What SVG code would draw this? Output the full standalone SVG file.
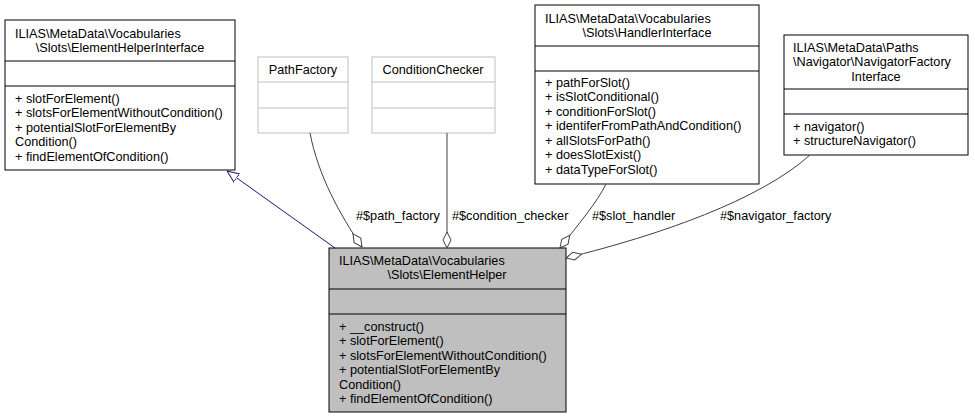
<svg xmlns="http://www.w3.org/2000/svg" width="975" height="419" viewBox="0 0 975 419">
<defs>
<style>
text{font-family:"Liberation Sans",Arial,sans-serif;font-size:12.7px;fill:#000}
.b{fill:#fff;stroke:#000;stroke-width:1}
.g{fill:#fff;stroke:#bfbfbf;stroke-width:1}
.m{fill:#bfbfbf;stroke:#000;stroke-width:1}
.e{fill:none;stroke:#404040;stroke-width:1}
.c{text-anchor:middle}
</style>
<marker id="tri" viewBox="0 0 12 12" refX="12" refY="6" markerWidth="12" markerHeight="12" markerUnits="userSpaceOnUse" orient="auto"><path d="M0,1 L12,6 L0,11 Z" fill="#fff" stroke="#191970"/></marker>
<marker id="dia" viewBox="0 0 18 10" refX="17" refY="5" markerWidth="18" markerHeight="10" markerUnits="userSpaceOnUse" orient="auto"><path d="M1,5 L9,1 L17,5 L9,9 Z" fill="#fff" stroke="#404040"/></marker>
</defs>
<g id="n_ehi">
<rect class="b" x="5" y="20" width="230" height="150"/>
<line x1="5" y1="61" x2="235" y2="61" stroke="#000"/><line x1="5" y1="86" x2="235" y2="86" stroke="#000"/>
<text x="15" y="38">ILIAS\MetaData\Vocabularies</text>
<text x="120" y="52" class="c">\Slots\ElementHelperInterface</text>
<text x="15" y="103">+ slotForElement()</text>
<text x="15" y="117">+ slotsForElementWithoutCondition()</text>
<text x="15" y="132">+ potentialSlotForElementBy</text>
<text x="15" y="146">Condition()</text>
<text x="15" y="161">+ findElementOfCondition()</text>
</g>
<g id="n_pf">
<rect class="g" x="258" y="57" width="90" height="76"/>
<line x1="258" y1="82" x2="348" y2="82" stroke="#bfbfbf"/><line x1="258" y1="108" x2="348" y2="108" stroke="#bfbfbf"/>
<text x="303" y="74" class="c">PathFactory</text>
</g>
<g id="n_cc">
<rect class="g" x="372" y="57" width="123" height="76"/>
<line x1="372" y1="82" x2="495" y2="82" stroke="#bfbfbf"/><line x1="372" y1="108" x2="495" y2="108" stroke="#bfbfbf"/>
<text x="433" y="74" class="c">ConditionChecker</text>
</g>
<g id="n_hi">
<rect class="b" x="535" y="5" width="224" height="179"/>
<line x1="535" y1="46" x2="759" y2="46" stroke="#000"/><line x1="535" y1="71" x2="759" y2="71" stroke="#000"/>
<text x="545" y="23">ILIAS\MetaData\Vocabularies</text>
<text x="647" y="37" class="c">\Slots\HandlerInterface</text>
<text x="545" y="87">+ pathForSlot()</text>
<text x="545" y="101">+ isSlotConditional()</text>
<text x="545" y="116">+ conditionForSlot()</text>
<text x="545" y="130">+ identiferFromPathAndCondition()</text>
<text x="545" y="145">+ allSlotsForPath()</text>
<text x="545" y="159">+ doesSlotExist()</text>
<text x="545" y="174">+ dataTypeForSlot()</text>
</g>
<g id="n_nf">
<rect class="b" x="784" y="35" width="184" height="120"/>
<line x1="784" y1="89" x2="968" y2="89" stroke="#000"/><line x1="784" y1="114" x2="968" y2="114" stroke="#000"/>
<text x="793" y="52">ILIAS\MetaData\Paths</text>
<text x="793" y="66">\Navigator\NavigatorFactory</text>
<text x="876" y="81" class="c">Interface</text>
<text x="793" y="131">+ navigator()</text>
<text x="793" y="145">+ structureNavigator()</text>
</g>
<g id="n_eh">
<rect class="m" x="329" y="248" width="237" height="164"/>
<line x1="329" y1="289" x2="566" y2="289" stroke="#000"/><line x1="329" y1="314" x2="566" y2="314" stroke="#000"/>
<text x="339" y="265">ILIAS\MetaData\Vocabularies</text>
<text x="447" y="279" class="c">\Slots\ElementHelper</text>
<text x="339" y="331">+ __construct()</text>
<text x="339" y="345">+ slotForElement()</text>
<text x="339" y="360">+ slotsForElementWithoutCondition()</text>
<text x="339" y="374">+ potentialSlotForElementBy</text>
<text x="339" y="389">Condition()</text>
<text x="339" y="403">+ findElementOfCondition()</text>
</g>
<g id="edges">
<path d="M335,248 L227,171" fill="none" stroke="#191970" marker-end="url(#tri)"/>
<path class="e" d="M310,133 C318,175 340,215 362,247" marker-end="url(#dia)"/>
<text x="356" y="220">#$path_factory</text>
<path class="e" d="M447,133 L447,248" marker-end="url(#dia)"/>
<text x="452" y="220">#$condition_checker</text>
<path class="e" d="M606,184 C596,204 580,222 560,248" marker-end="url(#dia)"/>
<text x="592" y="220">#$slot_handler</text>
<path class="e" d="M810,155 C760,200 660,235 566,258" marker-end="url(#dia)"/>
<text x="720" y="220">#$navigator_factory</text>
</g>
</svg>
